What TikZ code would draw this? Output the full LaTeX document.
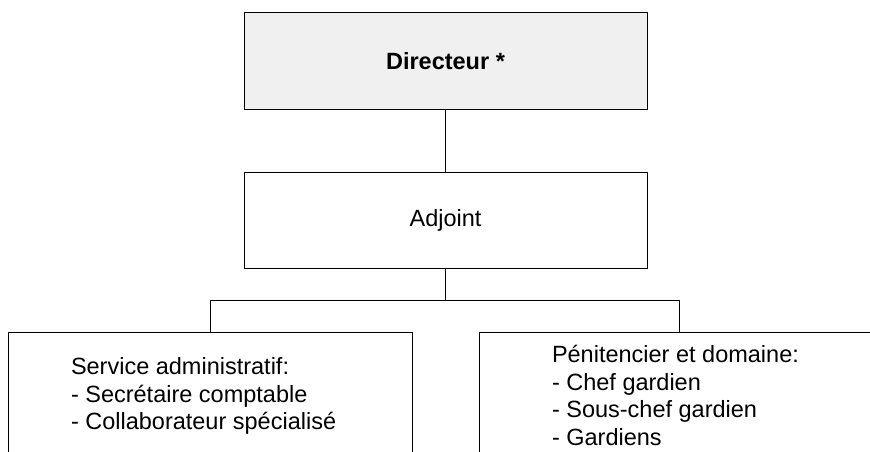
\documentclass[tikz,border=0pt]{standalone}
\usepackage{fontspec}
\setmainfont{Liberation Sans}
\definecolor{dirgray}{HTML}{F0F0F0}
\usepackage{tikz}
\usetikzlibrary{positioning}

\begin{document}
\begin{tikzpicture}[x=1pt, y=-1pt, line width=1pt,
  box/.style={draw, minimum width=403pt, minimum height=96pt, inner sep=0pt,
    font=\fontsize{23.5}{27.5}\selectfont},
  unitbox/.style={draw, minimum height=160pt, anchor=north, inner sep=0pt},
  staff/.style={align=left, inner sep=0pt, font=\fontsize{23.5}{27.5}\selectfont}]
  \useasboundingbox (0,0) rectangle (870,452);
  \clip (0,0) rectangle (870,452);
  % direction
  \node[box, fill=dirgray, font=\fontsize{23.5}{27.5}\selectfont\bfseries] (dir) at (445.5,61) {Directeur *};
  \node[box] (adj) at (445.5,220) {Adjoint};
  \coordinate[below=32pt of adj] (fork);
  % services
  \node[unitbox, minimum width=404pt] (admin) at (210,332) {};
  \node[unitbox, minimum width=400pt] (penit) at (679,332) {};
  \node[staff, below right=25pt and 63pt of admin.north west] (admintxt)
    {Service administratif:\\- Secrétaire comptable\\- Collaborateur spécialisé};
  \node[staff, below right=13pt and 73pt of penit.north west] (penittxt)
    {Pénitencier et domaine:\\- Chef gardien\\- Sous-chef gardien\\- Gardiens};
  \draw (dir) -- (adj);
  \draw (adj) -- (fork);
  \draw (admin.north) |- (fork) -| (penit.north);
\end{tikzpicture}
\end{document}
